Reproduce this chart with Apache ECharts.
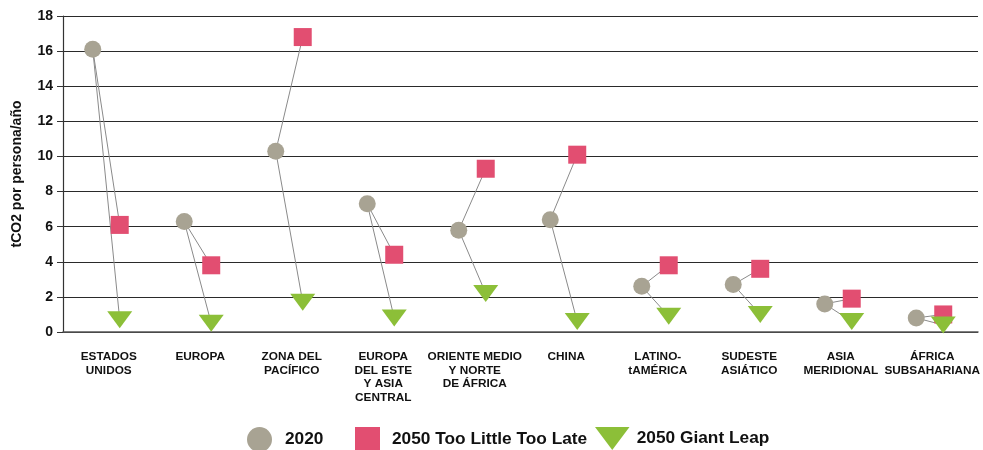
<!DOCTYPE html>
<html><head><meta charset="utf-8">
<script src="https://cdn.jsdelivr.net/npm/echarts@6/dist/echarts.min.js"></script>
<style>html,body{margin:0;padding:0;background:#fff}#c{width:983px;height:450px}</style>
</head><body><div id="c"></div>
<script>
const categories = ['ESTADOS\nUNIDOS','EUROPA','ZONA DEL\nPACÍFICO','EUROPA\nDEL ESTE\nY ASIA\nCENTRAL','ORIENTE MEDIO\nY NORTE\nDE ÁFRICA','CHINA','LATINO-\ntAMÉRICA','SUDESTE\nASIÁTICO','ASIA\nMERIDIONAL','ÁFRICA\nSUBSAHARIANA'];
const y2020 = [16.1, 6.3, 10.3, 7.3, 5.8, 6.4, 2.6, 2.7, 1.6, 0.8];
const tltl2050 = [6.1, 3.8, 16.8, 4.4, 9.3, 10.1, 3.8, 3.6, 1.9, 1.0];
const giant2050 = [0.7, 0.5, 1.7, 0.8, 2.2, 0.6, 0.9, 1.0, 0.6, 0.4];
const yTicks = [0,2,4,6,8,10,12,14,16,18];
const seriesNames = ['2020', '2050 Too Little Too Late', '2050 Giant Leap'];

const offC = -0.175, offR = 0.12;
const font = '"Liberation Sans", Arial, sans-serif';
const triPath = 'path://M0,0 L30,0 L15,20 Z';
const ptsC = y2020.map((v,i)=>[i+offC, v]);
const ptsS = tltl2050.map((v,i)=>[i+offR, v]);
const ptsG = giant2050.map((v,i)=>[i+offR, v]);
const links = [];
y2020.forEach((v,i)=>{
  links.push({coords:[ptsC[i], ptsS[i]]});
  links.push({coords:[ptsC[i], ptsG[i]]});
});

const legText = pad => ({fontFamily:font, fontWeight:'bold', fontSize:17.3, color:'#111', padding:[0,0,0,pad]});
const chart = echarts.init(document.getElementById('c'));
chart.setOption({
  animation:false,
  textStyle:{fontFamily:font},
  grid:{left:63, right:3, top:16, bottom:118},
  legend:[
    {top:427, left:247, padding:0, itemWidth:25, itemHeight:25, textStyle:legText(8),
     data:[{name:seriesNames[0], icon:'circle'}]},
    {top:427, left:355, padding:0, itemWidth:25, itemHeight:25, textStyle:legText(7),
     data:[{name:seriesNames[1], icon:'rect'}]},
    {top:427, left:595, padding:0, itemWidth:35, itemHeight:23, textStyle:legText(2),
     data:[{name:seriesNames[2], icon:triPath}]}
  ],
  xAxis:[
    {type:'category', data:categories, position:'bottom',
     axisLine:{lineStyle:{color:'#555', width:1.5}}, axisTick:{show:false},
     axisLabel:{interval:0, margin:18, fontFamily:font, fontWeight:'bold', fontSize:11.8, color:'#111', lineHeight:13.5}},
    {type:'value', min:-0.5, max:9.5, show:false}
  ],
  yAxis:{
    type:'value', min:0, max:18, interval:2,
    name:'tCO2 por persona/año', nameLocation:'middle', nameGap:39,
    nameTextStyle:{fontFamily:font, fontWeight:'bold', fontSize:14, color:'#111'},
    axisLine:{show:true, onZero:false, lineStyle:{color:'#333', width:1.2}},
    axisTick:{show:true, length:6, lineStyle:{color:'#333'}},
    axisLabel:{margin:10, fontFamily:font, fontWeight:'bold', fontSize:14, color:'#111',
      formatter:v=>yTicks.includes(v)?String(v):''},
    splitLine:{lineStyle:{color:'#2a2a2a', width:1.2}}
  },
  series:[
    {type:'lines', coordinateSystem:'cartesian2d', xAxisIndex:1, z:1, silent:true,
     lineStyle:{color:'#8a8a8a', width:1, opacity:1}, data:links},
    {name:seriesNames[0], type:'scatter', xAxisIndex:1, z:3, symbol:'circle', symbolSize:17,
     itemStyle:{color:'#a8a393', opacity:1}, data:ptsC},
    {name:seriesNames[1], type:'scatter', xAxisIndex:1, z:3, symbol:'rect', symbolSize:18,
     itemStyle:{color:'#e24e71', opacity:1}, data:ptsS},
    {name:seriesNames[2], type:'scatter', xAxisIndex:1, z:4, symbol:triPath, symbolSize:[25,17],
     itemStyle:{color:'#8cbf38', opacity:1}, data:ptsG}
  ]
});
</script></body></html>
